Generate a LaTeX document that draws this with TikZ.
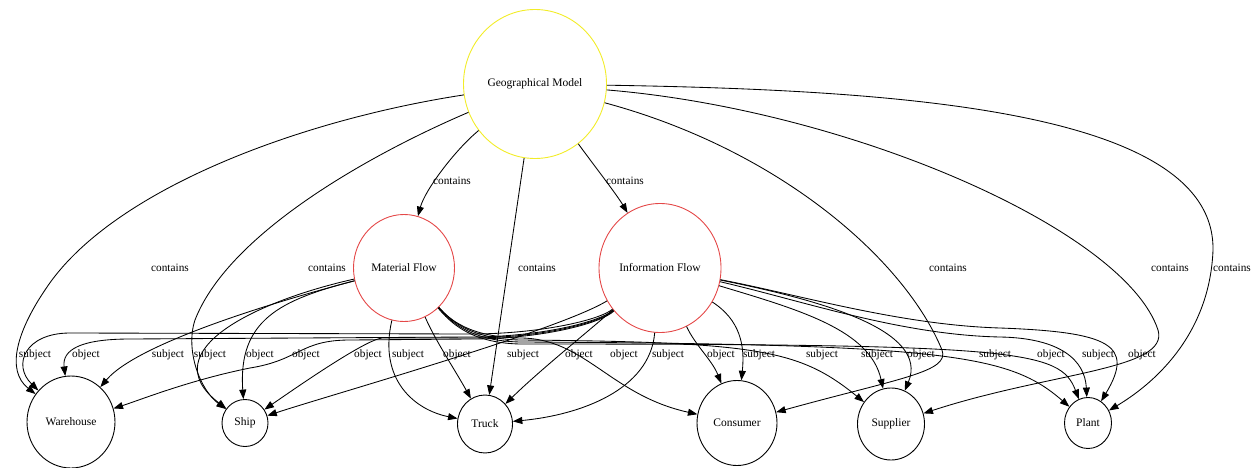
\documentclass[tikz,border=0pt]{standalone}
\usepackage{fontspec}
\setmainfont{Liberation Serif}
\usetikzlibrary{arrows.meta,shapes.geometric}
\definecolor{geoyellow}{RGB}{242,236,40}
\definecolor{flowred}{RGB}{228,72,72}
\begin{document}
\begin{tikzpicture}[x=1pt,y=-1pt,
  vtx/.style={ellipse,draw,line width=0.9pt,inner sep=0pt,font=\fontsize{11.5}{13}\selectfont},
  edge/.style={line width=0.85pt,-{Triangle[length=9.5pt,width=7pt]}},
  lbl/.style={font=\fontsize{11.3}{12}\selectfont,inner sep=0pt}]
\useasboundingbox (0,0) rectangle (1252,468);

% vertices
\node[vtx,draw=geoyellow,minimum width=143pt,minimum height=149pt] (geo) at (535,84) {Geographical Model};
\node[vtx,draw=flowred,minimum width=101pt,minimum height=107pt] (mf) at (404,268) {Material Flow};
\node[vtx,draw=flowred,minimum width=122pt,minimum height=129pt] (inf) at (660,268) {Information Flow};
\node[vtx,minimum width=88pt,minimum height=92pt] (wh) at (71,422) {Warehouse};
\node[vtx,minimum width=46pt,minimum height=47pt] (ship) at (245,423) {Ship};
\node[vtx,minimum width=55pt,minimum height=58pt] (truck) at (485,424) {Truck};
\node[vtx,minimum width=80pt,minimum height=85pt] (cons) at (737,423) {Consumer};
\node[vtx,minimum width=67pt,minimum height=72pt] (sup) at (891,424) {Supplier};
\node[vtx,minimum width=47pt,minimum height=51pt] (plant) at (1088,423) {Plant};

% "contains" edges from the geographical model
\draw[edge] (geo) .. controls (455,150) and (425,190) .. (mf);
\draw[edge] (geo) .. controls (590,160) and (617,195) .. (inf);
\draw[edge] (geo) .. controls (300,120) and (110,190) .. (45,290) .. controls (18,330) and (5,370) .. (wh);
\draw[edge] (geo) .. controls (380,150) and (230,230) .. (195,320) .. controls (185,350) and (200,390) .. (ship);
\draw[edge] (geo) -- (truck);
\draw[edge] (geo) .. controls (780,150) and (905,260) .. (942,350) .. controls (950,372) and (900,378) .. (cons);
\draw[edge] (geo) .. controls (850,110) and (1125,230) .. (1158,330) .. controls (1170,370) and (1050,372) .. (sup);
\draw[edge] (geo) .. controls (900,90) and (1215,110) .. (1213,250) .. controls (1210,330) and (1160,380) .. (plant);

% edges from the material flow
\draw[edge] (mf) .. controls (300,295) and (140,340) .. (wh);
\draw[edge] (mf) .. controls (260,300) and (150,350) .. (ship);
\draw[edge] (mf) .. controls (280,300) and (238,320) .. (ship);
\draw[edge] (mf) .. controls (378,380) and (415,410) .. (truck);
\draw[edge] (mf) .. controls (435,340) and (455,370) .. (truck);
\draw[edge] (mf) .. controls (450,320) and (470,337) .. (520,338) .. controls (585,338) and (610,395) .. (cons);
\draw[edge] (mf) .. controls (450,320) and (470,339) .. (520,340) .. controls (760,342) and (800,350) .. (sup);
\draw[edge] (mf) .. controls (450,321) and (470,341) .. (520,342) .. controls (950,344) and (1010,355) .. (plant);
\draw[edge] (mf) .. controls (450,322) and (470,343) .. (520,344) .. controls (1020,344) and (1060,350) .. (plant);

% edges from the information flow
\draw[edge] (inf) .. controls (600,320) and (540,334) .. (470,334) -- (70,333) .. controls (25,333) and (12,365) .. (wh);
\draw[edge] (inf) .. controls (600,322) and (540,337) .. (470,337) -- (130,339) .. controls (80,339) and (62,350) .. (wh);
\draw[edge] (inf) .. controls (600,324) and (540,339) .. (470,339) -- (350,340) .. controls (300,340) and (300,360) .. (250,368) .. controls (190,380) and (140,400) .. (wh);
\draw[edge] (inf) .. controls (600,323) and (540,338) .. (470,338) -- (382,338) .. controls (365,340) and (300,385) .. (ship);
\draw[edge] (inf) .. controls (560,330) and (330,395) .. (ship);
\draw[edge] (inf) .. controls (590,330) and (540,370) .. (truck);
\draw[edge] (inf) .. controls (650,390) and (580,415) .. (truck);
\draw[edge] (inf) .. controls (695,345) and (712,360) .. (cons);
\draw[edge] (inf) .. controls (740,320) and (745,345) .. (cons);
\draw[edge] (inf) .. controls (800,310) and (870,330) .. (sup);
\draw[edge] (inf) .. controls (820,300) and (930,330) .. (sup);
\draw[edge] (inf) .. controls (800,300) and (900,335) .. (1000,337) .. controls (1060,338) and (1085,360) .. (plant);
\draw[edge] (inf) .. controls (800,295) and (900,325) .. (1000,328) .. controls (1110,332) and (1135,345) .. (plant);

% edge labels
\node[lbl] (c1) at (452,181) {contains};
\node[lbl] (c2) at (625,181) {contains};
\node[lbl] (c3) at (170,268) {contains};
\node[lbl] (c4) at (327,268) {contains};
\node[lbl] (c5) at (537,268) {contains};
\node[lbl] (c6) at (948,268) {contains};
\node[lbl] (c7) at (1170,268) {contains};
\node[lbl] (c8) at (1232,268) {contains};

\node[lbl] (r1) at (35,355) {subject};
\node[lbl] (r2) at (86,355) {object};
\node[lbl] (r3) at (168,355) {subject};
\node[lbl] (r4) at (210,355) {subject};
\node[lbl] (r5) at (260,355) {object};
\node[lbl] (r6) at (306,355) {object};
\node[lbl] (r7) at (368,355) {object};
\node[lbl] (r8) at (408,355) {subject};
\node[lbl] (r9) at (457,355) {object};
\node[lbl] (r10) at (523,355) {subject};
\node[lbl] (r11) at (579,355) {object};
\node[lbl] (r12) at (624,355) {object};
\node[lbl] (r13) at (668,355) {subject};
\node[lbl] (r14) at (721,355) {object};
\node[lbl] (r15) at (759,355) {subject};
\node[lbl] (r16) at (822,355) {subject};
\node[lbl] (r17) at (877,355) {subject};
\node[lbl] (r18) at (921,355) {object};
\node[lbl] (r19) at (995,355) {subject};
\node[lbl] (r20) at (1051,355) {object};
\node[lbl] (r21) at (1098,355) {subject};
\node[lbl] (r22) at (1142,355) {object};
\end{tikzpicture}
\end{document}
